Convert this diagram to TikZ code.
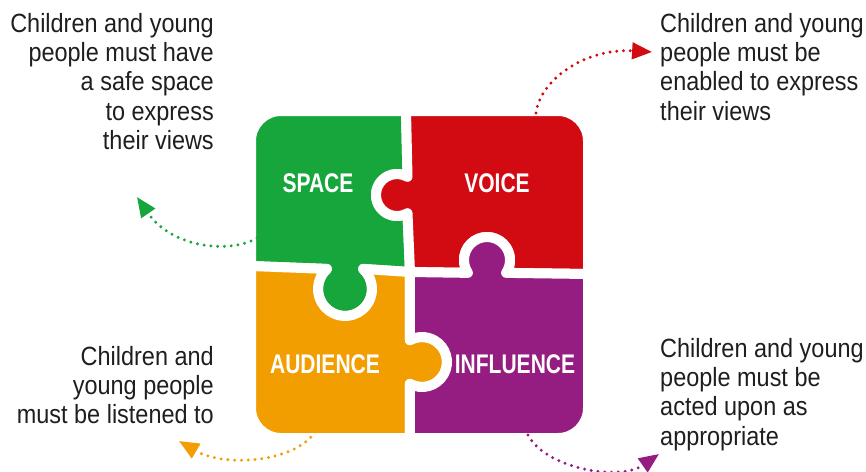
\documentclass[tikz,border=0pt]{standalone}
\usepackage{fontspec}
\setmainfont{Liberation Sans}[FakeStretch=0.89]
\newfontfamily\tagfont{Liberation Sans}[FakeStretch=0.78]
\usepackage{tikz}
\usetikzlibrary{arrows.meta,calc}
\definecolor{pzgreen}{RGB}{23,166,60}
\definecolor{pzred}{RGB}{210,11,18}
\definecolor{pzorange}{RGB}{243,158,0}
\definecolor{pzpurple}{RGB}{149,28,128}
\definecolor{notegray}{RGB}{30,30,30}
\tikzset{
  piece/.style={draw=white, line width=0.3cm, line join=round},
  tag/.style={font=\tagfont\bfseries\fontsize{23}{26}\selectfont, text=white, inner sep=0pt},
  note/.style={font=\fontsize{22.5}{25}\selectfont, text=notegray, inner sep=0pt},
  dotarr/.style={line width=2.8pt, line cap=round, dash pattern=on 0pt off 5.8pt,
                 -{Triangle[length=17pt,width=14pt]}},
}
\begin{document}
\begin{tikzpicture}[x=0.03cm, y=0.03cm]
  \useasboundingbox (0,0) rectangle (866,-471);
  % knob centres
  \coordinate (kg) at (345,-289);
  \coordinate (kr) at (397,-195);
  \coordinate (kp) at (487,-260);
  \coordinate (ko) at (422,-362);
  % pieces
  \fill[pzgreen, piece] (281,-111) -- (406,-111)
    -- ($(kr)+(60:21)$) arc[start angle=60, end angle=300, radius=21] -- (410,-272)
    -- ($(kg)+(48:27)$) arc[start angle=48, end angle=-228, radius=27] -- (251,-266)
    -- (251,-141) arc[start angle=180, end angle=90, radius=30] -- cycle;
  \fill[pzred, piece] (406,-111) -- (558,-111) arc[start angle=90, end angle=0, radius=30]
    -- (588,-274)
    -- ($(kp)+(-34:23)$) arc[start angle=-34, end angle=214, radius=23] -- (410,-272)
    -- ($(kr)+(300:21)$) arc[start angle=300, end angle=60, radius=21] -- cycle;
  \fill[pzorange, piece] (251,-266)
    -- ($(kg)+(-228:27)$) arc[start angle=-228, end angle=48, radius=27] -- (410,-272)
    -- ($(ko)+(119:25)$) arc[start angle=119, end angle=-119, radius=25] -- (410,-438)
    -- (281,-438) arc[start angle=270, end angle=180, radius=30] -- cycle;
  \fill[pzpurple, piece] (410,-272)
    -- ($(kp)+(214:23)$) arc[start angle=214, end angle=-34, radius=23] -- (588,-274)
    -- (588,-408) arc[start angle=0, end angle=-90, radius=30] -- (410,-438)
    -- ($(ko)+(-119:25)$) arc[start angle=-119, end angle=119, radius=25] -- cycle;
  % labels
  \node[tag] (space) at (318,-183) {SPACE};
  \node[tag] (voice) at (497,-183) {VOICE};
  \node[tag] (audience) at (325,-364) {AUDIENCE};
  \node[tag] (influence) at (515,-364) {INFLUENCE};
  % texts
  \node[note, anchor=north east, align=right] (spacetxt) at (214,-13)
       {Children and young\\people must have\\a safe space\\to express\\their views};
  \node[note, anchor=north west, align=left] (voicetxt) at (660,-13)
       {Children and young\\people must be\\enabled to express\\their views};
  \node[note, anchor=north east, align=right] (audiencetxt) at (214,-346)
       {Children and\\young people\\must be listened to};
  \node[note, anchor=north west, align=left] (influencetxt) at (660,-338)
       {Children and young\\people must be\\acted upon as\\appropriate};
  % arrows
  \coordinate (gs) at (257,-238);  \coordinate (gt) at (137,-197);
  \coordinate (rs) at (536,-113);  \coordinate (rt) at (652,-52);
  \coordinate (os) at (315,-432);  \coordinate (ot) at (179,-441);
  \coordinate (ps) at (528,-435);  \coordinate (pt) at (659,-454);
  \draw[dotarr, pzgreen] (gs) .. controls (230,-254) and (172,-248) .. (gt);
  \draw[dotarr, pzred] (rs) .. controls (540,-80) and (585,-48) .. (rt);
  \draw[dotarr, pzorange] (os) .. controls (295,-462) and (225,-468) .. (ot);
  \draw[dotarr, pzpurple] (ps) .. controls (545,-468) and (619,-482) .. (pt);
\end{tikzpicture}
\end{document}
